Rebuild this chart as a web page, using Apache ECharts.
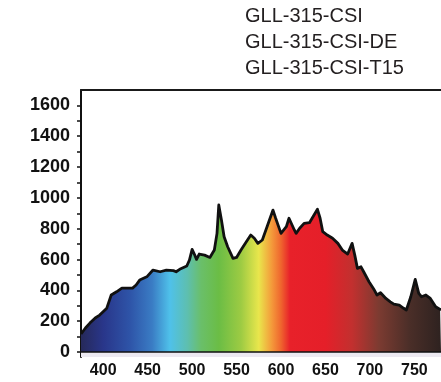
<!DOCTYPE html>
<html>
<head>
<meta charset="utf-8">
<script src="https://cdn.jsdelivr.net/npm/echarts@6/dist/echarts.min.js"></script>
<style>
  html, body { margin: 0; padding: 0; background: #fff; }
  #chart { width: 441px; height: 382px; }
</style>
</head>
<body>
<div id="chart"></div>
<script>
// Lamp spectrum: wavelength (nm) and relative irradiance
const wavelengths = [
  375, 380, 385, 391, 396, 404, 409, 415, 421, 426, 433, 437, 441, 449, 456,
  464, 471, 479, 482, 486, 494, 497, 500, 503, 505, 508, 514, 520, 525, 528,
  530, 533, 536, 540, 546, 550, 555, 561, 566, 570, 574, 579, 585, 591, 594,
  600, 606, 609, 615, 617, 621, 626, 632, 635, 641, 644, 647, 652, 658, 664,
  669, 675, 677, 680, 683, 686, 690, 693, 699, 705, 708, 712, 718, 723, 727,
  733, 738, 741, 746, 751, 755, 758, 763, 768, 774, 779, 780
];
const irradiance = [
  117, 156, 188, 221, 240, 285, 370, 391, 415, 415, 415, 435, 467, 488, 532,
  521, 532, 528, 521, 537, 558, 597, 666, 629, 601, 636, 629, 614, 662, 770,
  954, 856, 748, 683, 608, 614, 662, 716, 759, 738, 705, 727, 824, 921, 868,
  770, 813, 868, 792, 770, 803, 835, 839, 868, 926, 868, 781, 759, 738, 705,
  662, 636, 640, 705, 629, 543, 553, 521, 456, 402, 370, 385, 348, 326, 311,
  305, 284, 273, 359, 472, 381, 359, 370, 348, 294, 277, 275
];
const lampNames = ['GLL-315-CSI', 'GLL-315-CSI-DE', 'GLL-315-CSI-T15'];
const xTickValues = [400, 450, 500, 550, 600, 650, 700, 750];
const yLabelValues = [0, 200, 400, 600, 800, 1000, 1200, 1400, 1600];
const yTickValues = [0, 100, 200, 300, 400, 500, 600, 700, 800, 900, 1000,
  1100, 1200, 1300, 1400, 1500, 1600];

const X_MIN = 375, X_MAX = 780;

// visible-spectrum colours placed by wavelength
const spectrumStops = [
  [375, '#26295a'], [400, '#29368a'], [430, '#2e54a8'], [455, '#3a7cc4'],
  [475, '#4fc1ea'], [495, '#5ebfae'], [510, '#6abf6a'], [530, '#6bbd45'],
  [555, '#9dcb43'], [575, '#e9e64c'], [590, '#f4983a'], [600, '#ef652e'],
  [610, '#e8212a'], [650, '#e51f29'], [680, '#c2302f'], [710, '#7c3b31'],
  [745, '#4a2e28'], [780, '#2e2220']
];

const chart = echarts.init(document.getElementById('chart'), null, { renderer: 'canvas' });
const labelFont = '"Liberation Sans", Arial, Helvetica, sans-serif';

chart.setOption({
  animation: false,
  backgroundColor: '#ffffff',
  title: {
    text: lampNames.join('\n'),
    left: 245,
    top: 3,
    padding: 0,
    textStyle: {
      fontFamily: labelFont,
      fontSize: 20,
      fontWeight: 'normal',
      lineHeight: 26,
      color: '#231f20'
    }
  },
  grid: { left: 81, right: -1, top: 90, bottom: 25 },
  xAxis: [{
    type: 'value',
    position: 'bottom',
    min: X_MIN,
    max: X_MAX,
    axisLine: { show: true, lineStyle: { color: '#111', width: 1.5 } },
    axisTick: {
      show: true, inside: true, length: 5,
      customValues: xTickValues,
      lineStyle: { color: '#111', width: 1.5 }
    },
    axisLabel: {
      customValues: xTickValues,
      margin: 6,
      fontFamily: labelFont,
      fontSize: 16,
      fontWeight: 'bold',
      color: '#111'
    },
    splitLine: { show: false }
  }, {
    // frame line along the top of the plot
    type: 'value',
    position: 'top',
    min: X_MIN,
    max: X_MAX,
    axisLine: { show: true, lineStyle: { color: '#1a1a1a', width: 2 } },
    axisTick: { show: false },
    axisLabel: { show: false },
    splitLine: { show: false }
  }],
  yAxis: {
    type: 'value',
    min: -32,
    max: 1700,
    axisLine: { show: true, lineStyle: { color: '#111', width: 2 } },
    axisTick: {
      show: true, inside: false, length: 4,
      customValues: yTickValues,
      lineStyle: { color: '#111', width: 1.5 }
    },
    axisLabel: {
      customValues: yLabelValues,
      formatter: (v) => String(v),
      margin: 11,
      fontFamily: labelFont,
      fontSize: 18,
      fontWeight: 'bold',
      color: '#111'
    },
    splitLine: { show: false }
  },
  series: [{
    type: 'line',
    xAxisIndex: 0,
    data: wavelengths.map((w, i) => [w, irradiance[i]]),
    symbol: 'none',
    smooth: false,
    lineStyle: { color: '#111', width: 2.8, join: 'round' },
    areaStyle: {
      opacity: 1,
      color: {
        type: 'linear', x: 0, y: 0, x2: 1, y2: 0,
        colorStops: spectrumStops.map(([w, c]) => ({
          offset: (w - X_MIN) / (X_MAX - X_MIN), color: c
        }))
      }
    },
    markArea: {
      silent: true,
      itemStyle: { color: '#ece9f1' },
      data: [[{ yAxis: -32 }, { yAxis: 0 }]]
    },
    markLine: {
      silent: true,
      symbol: 'none',
      label: { show: false },
      lineStyle: { color: '#111', width: 1.5, type: 'solid' },
      data: [{ yAxis: 0 }]
    },
    z: 2
  }]
});
</script>
</body>
</html>
